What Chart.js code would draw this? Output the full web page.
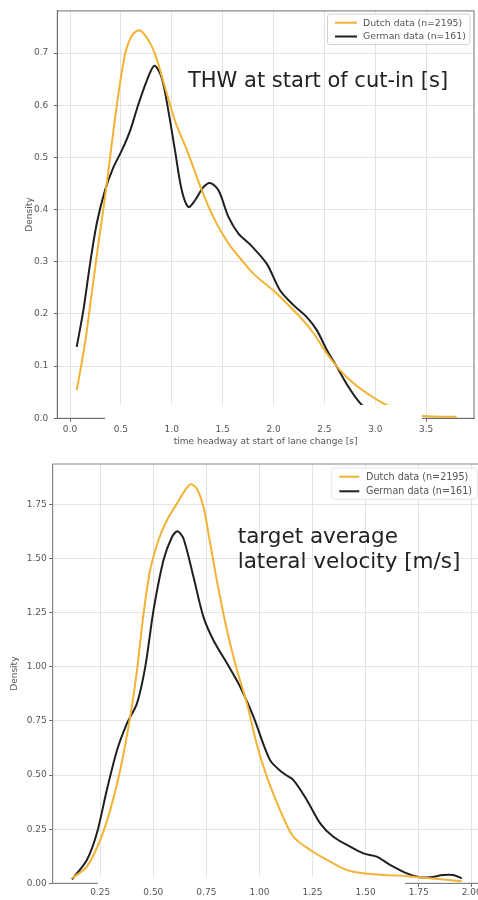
<!DOCTYPE html>
<html><head><meta charset="utf-8">
<script src="https://cdn.jsdelivr.net/npm/chart.js@4.4.1/dist/chart.umd.min.js"></script>
<style>
html,body{margin:0;padding:0;background:#fff;width:478px;height:900px;overflow:hidden;}
.panel{position:relative;width:478px;height:450px;overflow:hidden;}
canvas{display:block;}
</style></head><body>
<div class="panel"><canvas id="c1" width="478" height="450"></canvas></div>
<div class="panel"><canvas id="c2" width="484" height="450"></canvas></div>
<script>
// ---------- data ----------
const seriesLabels = ['Dutch data (n=2195)', 'German data (n=161)'];

// Chart 1: time headway at start of lane change [s]
const thwDutchX = [0.066,0.147,0.213,0.279,0.344,0.41,0.475,0.541,0.606,0.678,0.754,0.836,0.934,1.032,1.163,1.295,1.426,1.557,1.688,1.819,1.999,2.131,2.262,2.393,2.524,2.655,2.786,2.917,3.048,3.114,3.2,3.3,3.4,3.5,3.65,3.8];
const thwDutchY = [0.054,0.143,0.239,0.335,0.424,0.526,0.621,0.698,0.733,0.744,0.730,0.698,0.634,0.570,0.507,0.437,0.379,0.335,0.303,0.274,0.245,0.220,0.194,0.163,0.124,0.092,0.067,0.048,0.032,0.025,0.017,0.010,0.006,0.004,0.003,0.003];
const thwGermanX = [0.066,0.131,0.197,0.262,0.344,0.426,0.508,0.59,0.672,0.754,0.829,0.901,0.967,1.032,1.098,1.163,1.229,1.311,1.377,1.459,1.557,1.655,1.786,1.934,2.065,2.196,2.327,2.425,2.524,2.622,2.737,2.851,2.95,3.05];
const thwGermanY = [0.137,0.207,0.296,0.373,0.437,0.481,0.513,0.551,0.602,0.647,0.676,0.653,0.589,0.513,0.437,0.405,0.418,0.443,0.451,0.437,0.386,0.354,0.330,0.296,0.245,0.217,0.194,0.169,0.131,0.099,0.060,0.029,0.012,0.004];
const thwTicksX = [0.0,0.5,1.0,1.5,2.0,2.5,3.0,3.5];
const thwTicksY = [0.0,0.1,0.2,0.3,0.4,0.5,0.6,0.7];

// Chart 2: target average lateral velocity [m/s]
const latDutchX = [0.117,0.187,0.25,0.297,0.344,0.391,0.423,0.454,0.485,0.524,0.564,0.611,0.65,0.677,0.705,0.736,0.768,0.799,0.847,0.894,0.941,0.988,1.035,1.097,1.16,1.239,1.333,1.412,1.49,1.584,1.678,1.803,1.953];
const latDutchY = [0.023,0.077,0.200,0.338,0.523,0.769,0.985,1.246,1.446,1.585,1.677,1.754,1.816,1.843,1.823,1.739,1.570,1.400,1.169,0.985,0.831,0.640,0.492,0.338,0.215,0.154,0.100,0.061,0.046,0.038,0.034,0.023,0.010];
const latGermanX = [0.117,0.187,0.234,0.281,0.329,0.376,0.423,0.462,0.501,0.548,0.588,0.614,0.642,0.689,0.736,0.783,0.847,0.909,0.972,1.05,1.113,1.16,1.223,1.286,1.348,1.427,1.49,1.553,1.615,1.694,1.756,1.803,1.866,1.913,1.953];
const latGermanY = [0.018,0.108,0.231,0.431,0.615,0.739,0.831,1.000,1.262,1.493,1.600,1.626,1.593,1.416,1.231,1.123,1.016,0.908,0.769,0.569,0.508,0.477,0.385,0.277,0.215,0.169,0.138,0.123,0.085,0.046,0.028,0.028,0.038,0.038,0.023];
const latTicksX = [0.25,0.50,0.75,1.00,1.25,1.50,1.75,2.00];
const latTicksY = [0.00,0.25,0.50,0.75,1.00,1.25,1.50,1.75];

// ---------- styling ----------
const ORANGE = '#f2b234';
const BLACK = '#1f1f1f';
const FONT = "'DejaVu Sans', 'Liberation Sans', sans-serif";
const TICK_COLOR = '#555';

function pts(xs, ys) { return xs.map((x, i) => ({ x: x, y: ys[i] })); }

const decor = {
  id: 'decor',
  afterDraw(chart, args, o) {
    const ctx = chart.ctx, a = chart.chartArea;
    ctx.save();
    // spines
    ctx.strokeStyle = o.spine; ctx.lineWidth = 1;
    ctx.strokeRect(a.left, a.top, a.right - a.left, a.bottom - a.top);
    // white scan mask
    if (o.mask) { ctx.fillStyle = '#fff'; ctx.fillRect(o.mask[0], o.mask[1], o.mask[2], o.mask[3]); }
    // legend
    const L = o.legend;
    const hx = a.right - L.fromRight;
    ctx.font = L.size + 'px ' + FONT;
    ctx.fillStyle = 'rgba(255,255,255,0.85)';
    ctx.strokeStyle = L.frame;
    const bx = hx - 7.5, by = L.rows[0] - 8.5, bw = (a.right - 4) - bx, bh = (L.rows[1] + 8) - by;
    ctx.beginPath();
    if (ctx.roundRect) ctx.roundRect(bx, by, bw, bh, 2.5); else ctx.rect(bx, by, bw, bh);
    ctx.fill(); ctx.stroke();
    chart.data.datasets.forEach((ds, i) => {
      const y = L.rows[i];
      ctx.strokeStyle = ds.borderColor; ctx.lineWidth = 2;
      ctx.beginPath(); ctx.moveTo(hx, y); ctx.lineTo(hx + L.handle, y); ctx.stroke();
      ctx.fillStyle = '#555'; ctx.textBaseline = 'middle'; ctx.textAlign = 'left';
      ctx.fillText(ds.label, hx + L.handle + L.gap, y + 0.5);
    });
    // annotation
    const N = o.note;
    ctx.font = N.size + 'px ' + FONT;
    ctx.fillStyle = '#222'; ctx.textBaseline = 'alphabetic'; ctx.textAlign = 'left';
    N.lines.forEach((t, i) => ctx.fillText(t, N.x, N.y + i * N.lh));
    ctx.restore();
  }
};

function makeChart(id, c) {
  return new Chart(document.getElementById(id), {
    type: 'line',
    data: {
      datasets: [
        { label: seriesLabels[0], data: pts(c.dx, c.dy), borderColor: ORANGE, backgroundColor: ORANGE, borderWidth: 2, pointRadius: 0, tension: 0.3, fill: false },
        { label: seriesLabels[1], data: pts(c.gx, c.gy), borderColor: BLACK, backgroundColor: BLACK, borderWidth: 2, pointRadius: 0, tension: 0.3, fill: false }
      ]
    },
    options: {
      responsive: false, animation: false, devicePixelRatio: 1,
      layout: { padding: c.pad },
      events: [],
      plugins: { legend: { display: false }, tooltip: { enabled: false }, decor: c.decor },
      scales: {
        x: {
          type: 'linear', min: c.xmin, max: c.xmax,
          afterBuildTicks: s => { s.ticks = c.xt.map(v => ({ value: v })); },
          afterFit: s => { s.height = c.xh; },
          ticks: { autoSkip: false, maxRotation: 0, padding: c.xpad, color: TICK_COLOR, font: { family: FONT, size: 9 }, callback: v => Number(v).toFixed(c.dec) },
          grid: { color: '#e3e3e3', lineWidth: 1, tickLength: 3.5, tickColor: '#666' },
          border: { color: '#666' },
          title: c.xtitle ? { display: true, text: c.xtitle, color: TICK_COLOR, font: { family: FONT, size: 9 }, padding: { top: 0, bottom: 2.6 } } : { display: false }
        },
        y: {
          type: 'linear', min: 0, max: c.ymax,
          afterBuildTicks: s => { s.ticks = c.yt.map(v => ({ value: v })); },
          afterFit: s => { s.width = c.yw; },
          ticks: { autoSkip: false, padding: c.ypad, color: TICK_COLOR, font: { family: FONT, size: 9 }, callback: v => Number(v).toFixed(c.dec) },
          grid: { color: '#e3e3e3', lineWidth: 1, tickLength: 3.5, tickColor: '#666' },
          border: { color: '#666' },
          title: { display: true, text: 'Density', color: TICK_COLOR, font: { family: FONT, size: 9 }, padding: { top: c.ytpad, bottom: 0 } }
        }
      }
    },
    plugins: [decor]
  });
}

makeChart('c1', {
  dx: thwDutchX, dy: thwDutchY, gx: thwGermanX, gy: thwGermanY,
  xt: thwTicksX, yt: thwTicksY, dec: 1,
  xmin: -0.125, xmax: 3.97, ymax: 0.781,
  pad: { left: 0, right: 4, top: 10, bottom: 0 },
  yw: 57.3, xh: 31.7, xpad: 2.3, ypad: 5.5, ytpad: 24.6,
  xtitle: 'time headway at start of lane change [s]',
  decor: {
    spine: '#707070',
    mask: [105, 405, 317, 17],
    legend: { fromRight: 139, rows: [22.7, 36.5], handle: 22, gap: 6, size: 9.3, frame: '#d2d2d2' },
    note: { lines: ['THW at start of cut-in [s]'], x: 188, y: 87.3, lh: 25, size: 21 }
  }
});

makeChart('c2', {
  dx: latDutchX, dy: latDutchY, gx: latGermanX, gy: latGermanY,
  xt: latTicksX, yt: latTicksY, dec: 2,
  xmin: 0.026, xmax: 2.045, ymax: 1.937,
  pad: { left: 0, right: 2.7, top: 14, bottom: 0 },
  yw: 52.7, xh: 16.7, xpad: 0.8, ypad: 2.5, ytpad: 9.6,
  xtitle: null,
  decor: {
    spine: '#8a8a8a',
    mask: [98, 426.7, 307, 11.3],
    legend: { fromRight: 142, rows: [26.7, 41.3], handle: 20, gap: 6.7, size: 9.6, frame: '#e6e6e6' },
    note: { lines: ['target average', 'lateral velocity [m/s]'], x: 237.7, y: 93.3, lh: 25, size: 21.5 }
  }
});
</script>
</body></html>
